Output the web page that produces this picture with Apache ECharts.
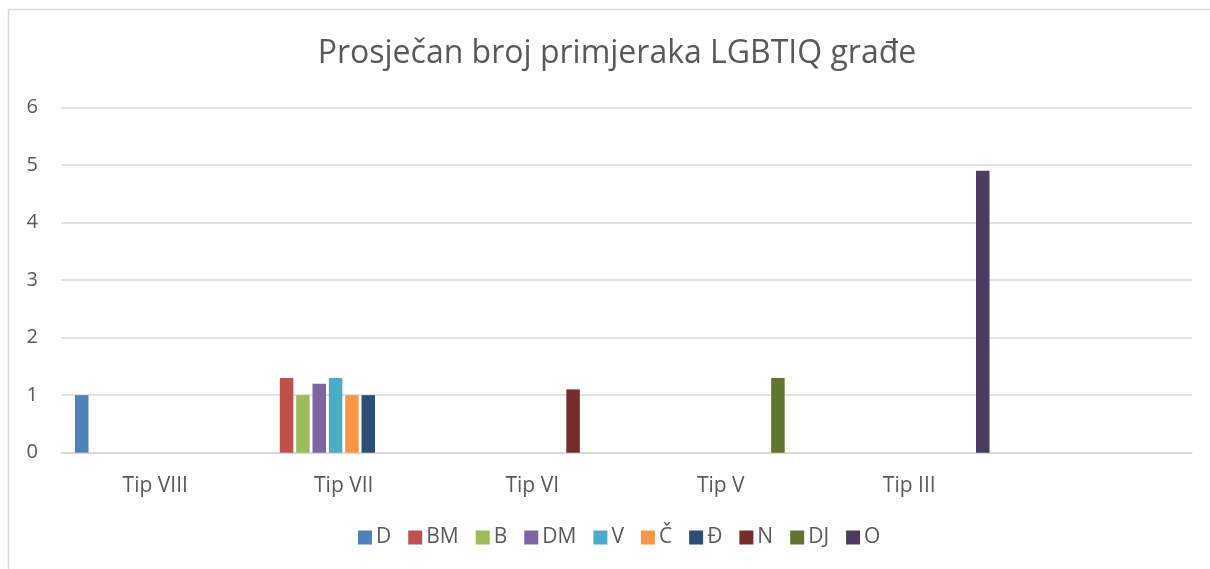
<!DOCTYPE html>
<html>
<head>
<meta charset="utf-8">
<script src="https://cdn.jsdelivr.net/npm/echarts@6/dist/echarts.min.js"></script>
<style>
html,body{margin:0;padding:0;background:#fff;}
#chart{width:1210px;height:569px;}
</style>
</head>
<body>
<div id="chart"></div>
<script>
const categories = ['Tip VIII', 'Tip VII', 'Tip VI', 'Tip V', 'Tip III', ''];
const seriesNames = ['D', 'BM', 'B', 'DM', 'V', 'Č', 'Đ', 'N', 'DJ', 'O'];
const D  = [1.0, null, null, null, null, null];
const BM = [null, 1.3, null, null, null, null];
const B  = [null, 1.0, null, null, null, null];
const DM = [null, 1.2, null, null, null, null];
const V  = [null, 1.3, null, null, null, null];
const C  = [null, 1.0, null, null, null, null];
const DJe = [null, 1.0, null, null, null, null];
const N  = [null, null, 1.1, null, null, null];
const DJ = [null, null, null, 1.3, null, null];
const O  = [null, null, null, null, 4.9, null];
const yTicks = [0, 1, 2, 3, 4, 5, 6];
const colors = ['#4F81BD', '#C0504D', '#9BBB59', '#8064A2', '#4BACC6', '#F79646', '#2C4D75', '#772C2A', '#5F7530', '#4D3B62'];
const seriesData = [D, BM, B, DM, V, C, DJe, N, DJ, O];

const chart = echarts.init(document.getElementById('chart'), null, {renderer: 'canvas'});
const font = '"Open Sans", "Noto Sans", sans-serif';
chart.setOption({
  animation: false,
  backgroundColor: '#fff',
  color: colors,
  textStyle: {fontFamily: font},
  title: {
    text: 'Prosječan broj primjeraka LGBTIQ građe',
    left: 612, top: 33, textAlign: 'center',
    textStyle: {fontFamily: font, fontSize: 32, fontWeight: 'normal', color: '#595959'}
  },
  graphic: [{
    type: 'rect', shape: {x: 8.5, y: 9.5, width: 1300, height: 700},
    style: {fill: 'none', stroke: '#d9d9d9', lineWidth: 1.5}, silent: true
  }],
  legend: {
    data: seriesNames,
    bottom: 16, left: 353,
    itemWidth: 14, itemHeight: 14, itemGap: 17,
    icon: 'rect',
    textStyle: {fontFamily: font, fontSize: 21, color: '#595959', padding: [0, 0, 0, -1]}
  },
  grid: {left: 61, right: 18, top: 107.5, bottom: 116.3, containLabel: false},
  xAxis: {
    type: 'category', data: categories,
    axisLine: {show: true, lineStyle: {color: '#d9d9d9', width: 1.5}},
    axisTick: {show: false},
    axisLabel: {fontFamily: font, fontSize: 21, color: '#595959', margin: 23}
  },
  yAxis: {
    type: 'value', min: yTicks[0], max: yTicks[yTicks.length - 1], interval: 1,
    axisLine: {show: false}, axisTick: {show: false},
    splitLine: {lineStyle: {color: '#d9d9d9', width: 1.5}},
    axisLabel: {fontFamily: font, fontSize: 20, color: '#595959', margin: 23}
  },
  series: seriesNames.map((n, i) => ({
    name: n, type: 'bar', data: seriesData[i],
    barWidth: 13.5, barGap: '21%',
    itemStyle: {color: colors[i]}
  }))
});
</script>
</body>
</html>
